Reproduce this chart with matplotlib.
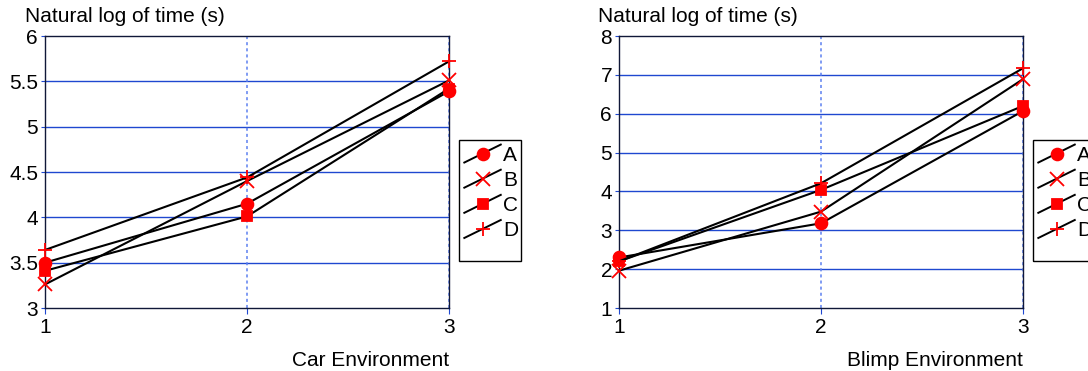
import matplotlib
matplotlib.use("Agg")
import matplotlib.pyplot as plt
from matplotlib.lines import Line2D
from matplotlib.patches import Rectangle
from matplotlib.legend_handler import HandlerLine2D

plt.rcParams["font.family"] = ["Liberation Sans", "DejaVu Sans"]

# Trial number on the x axis, four conditions per environment
trials = [1, 2, 3]
conditions = ["A", "B", "C", "D"]

car_A = [3.50, 4.15, 5.39]
car_B = [3.26, 4.40, 5.51]
car_C = [3.41, 4.01, 5.42]
car_D = [3.64, 4.44, 5.72]

blimp_A = [2.30, 3.18, 6.07]
blimp_B = [1.96, 3.48, 6.89]
blimp_C = [2.20, 4.04, 6.20]
blimp_D = [2.20, 4.21, 7.17]

car_yticks = [3, 3.5, 4, 4.5, 5, 5.5, 6]
car_yticklabels = ["3", "3.5", "4", "4.5", "5", "5.5", "6"]
blimp_yticks = [1, 2, 3, 4, 5, 6, 7, 8]

markers = {"A": ("o", 8.5), "B": ("x", 10), "C": ("s", 7.5), "D": ("+", 10.5)}
RED = "#ff0000"
GRID = "#1f48d0"
VGRID = "#5c80f0"
FS = 15


class SlantHandler(HandlerLine2D):
    """Legend key drawn as a rising diagonal line with the marker in the middle."""

    def create_artists(self, legend, orig_handle, xdescent, ydescent,
                       width, height, fontsize, trans):
        x0, y0 = -xdescent, -ydescent
        line = Line2D([x0, x0 + width], [y0, y0 + height], color="black", lw=1.4)
        mark = Line2D([x0 + width / 2], [y0 + height / 2], linestyle="none",
                      marker=orig_handle.get_marker(),
                      markersize=orig_handle.get_markersize(),
                      color=RED, markeredgewidth=1.3)
        line.set_transform(trans)
        mark.set_transform(trans)
        return [line, mark]


def draw_panel(ax, series, yticks, yticklabels, xlabel, label_x):
    handles = []
    for name, values in zip(conditions, series):
        m, ms = markers[name]
        h, = ax.plot(trials, values, color="black", lw=1.5, marker=m, markersize=ms,
                     markerfacecolor=RED, markeredgecolor=RED, markeredgewidth=1.3,
                     clip_on=False, zorder=3, label=name)
        handles.append(h)

    ax.set_xlim(1, 3)
    ax.set_ylim(yticks[0], yticks[-1])
    ax.set_xticks(trials)
    ax.set_yticks(yticks)
    ax.set_yticklabels(yticklabels)
    ax.tick_params(axis="both", labelsize=FS, color=GRID)
    ax.tick_params(axis="y", length=3, pad=2)
    ax.tick_params(axis="x", length=4, pad=3)

    for y in yticks[1:-1]:
        ax.axhline(y, color=GRID, lw=1.0, zorder=1)
    for x in trials:
        ax.axvline(x, color=VGRID, lw=1.1, ls=(0, (2, 2)), zorder=1)

    for sp in ax.spines.values():
        sp.set_color("#101838")
        sp.set_linewidth(1.0)

    ax.legend(handles, conditions, handler_map={Line2D: SlantHandler()},
              loc="upper left", bbox_to_anchor=(1.025, 0.62),
              borderaxespad=0, frameon=False, fontsize=FS,
              handlelength=1.75, handleheight=0.95, handletextpad=0.12,
              labelspacing=0.24, borderpad=0.25)
    # key frame, taller than the entries so there is room below the last row
    ax.add_patch(Rectangle((1.0248, 0.174), 0.1535, 0.4438, transform=ax.transAxes,
                           facecolor="none", edgecolor="black", lw=1.0,
                           clip_on=False))

    fig = ax.figure
    pos = ax.get_position()
    fig.text(label_x, 349 / 371, "Natural log of time (s)", fontsize=FS,
             ha="left", va="baseline")
    fig.text(pos.x1, 5 / 371, xlabel, fontsize=FS, ha="right", va="baseline")


fig = plt.figure(figsize=(10.88, 3.71), dpi=100)
ax1 = fig.add_axes([45 / 1088, 63 / 371, 404 / 1088, 272 / 371])
ax2 = fig.add_axes([619 / 1088, 63 / 371, 404 / 1088, 272 / 371])

draw_panel(ax1, [car_A, car_B, car_C, car_D], car_yticks, car_yticklabels,
           "Car Environment", 25 / 1088)
draw_panel(ax2, [blimp_A, blimp_B, blimp_C, blimp_D], blimp_yticks,
           [str(v) for v in blimp_yticks], "Blimp Environment", 598 / 1088)

fig.savefig("out.png", dpi=100)
